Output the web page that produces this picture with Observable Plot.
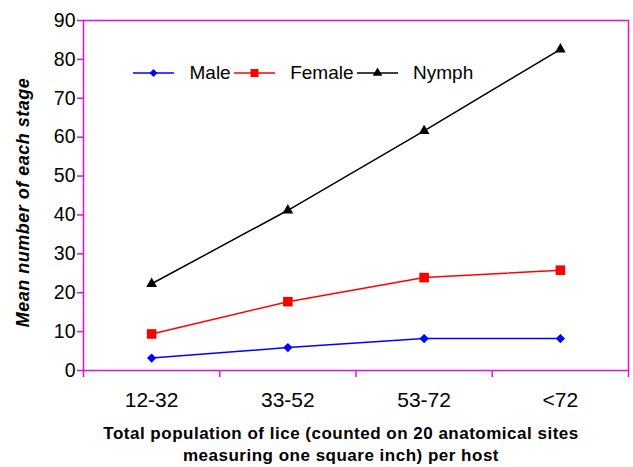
<!DOCTYPE html>
<html><head><meta charset="utf-8">
<script src="https://cdn.jsdelivr.net/npm/d3@7"></script>
<script src="https://cdn.jsdelivr.net/npm/@observablehq/plot@0.6"></script>
<style>
body{margin:0;background:#fff;font-family:"Liberation Sans",Arial,sans-serif}
#wrap{position:relative;width:633px;height:467px}
#legend{position:absolute;left:133px;top:61.5px;display:flex;align-items:center;font-size:19px;line-height:22px;color:#000}
.item{display:flex;align-items:center;margin-right:3px}
.item span{margin-left:15.5px}
</style></head><body><div id="wrap"></div>
<script>
const categories = ["12-32", "33-52", "53-72", "<72"];
const seriesNames = ["Male", "Female", "Nymph"];
const male = [3.2, 5.9, 8.2, 8.2];
const female = [9.4, 17.7, 23.9, 25.8];
const nymph = [22.3, 41.2, 61.6, 82.6];
const yTicks = [0, 10, 20, 30, 40, 50, 60, 70, 80, 90];
const xLabel = "Total population of lice (counted on 20 anatomical sites\nmeasuring one square inch) per host";
const yLabel = "Mean number of each stage";

const colors = {Male: "#0000ff", Female: "#ff0000", Nymph: "#000000"};
const symbols = {Male: "diamond2", Female: "square", Nymph: "triangle"};
const radii = {Male: 4.2, Female: 5.4, Nymph: 4};
const MAG = "#e010e0";

const seriesValues = [male, female, nymph];
const rows = [];
seriesNames.forEach((s, k) => seriesValues[k].forEach((v, i) => rows.push({series: s, i, cat: categories[i], value: v})));

const marks = [
  Plot.frame({stroke: MAG, strokeWidth: 1.5}),
  Plot.axisY(yTicks, {stroke: MAG, fill: "#000", strokeWidth: 1.5, fontSize: 19.5, tickSize: 6, tickPadding: 2, label: null}),
  Plot.axisX(d3.range(categories.length + 1).map(i => i - 0.5), {stroke: MAG, strokeWidth: 1.5, tickSize: 7, tickFormat: () => "", label: null}),
  Plot.axisX(d3.range(categories.length), {fill: "#000", fontSize: 21, tickSize: 0, tickPadding: 22, tickFormat: i => categories[i], label: null}),
  Plot.text([yLabel], {frameAnchor: "left", rotate: -90, dx: -60, dy: 7, textAnchor: "middle", fontWeight: "bold", fontStyle: "italic", fontSize: 18, fill: "#000"}),
  Plot.text([xLabel], {frameAnchor: "bottom", lineAnchor: "top", dy: 53, dx: -15, fontWeight: "bold", fontSize: 17, lineHeight: 1.3, fill: "#000"})
];
for (const s of seriesNames) {
  const d = rows.filter(r => r.series === s);
  marks.push(Plot.line(d, {x: "i", y: "value", stroke: colors[s], strokeWidth: 1.5}));
  marks.push(Plot.dot(d, {x: "i", y: "value", fill: colors[s], stroke: "none", symbol: symbols[s], r: radii[s]}));
}

const chart = Plot.plot({
  width: 633, height: 467,
  marginLeft: 83, marginRight: 5, marginTop: 20, marginBottom: 97,
  style: {fontFamily: "Liberation Sans, Arial, sans-serif", background: "white", overflow: "visible"},
  x: {type: "linear", domain: [-0.5, categories.length - 0.5]},
  y: {domain: [0, 90]},
  marks
});
chart.querySelectorAll("text").forEach(t => {
  if (t.textContent.startsWith("Mean")) t.setAttribute("letter-spacing", "0.5");
  if (t.textContent.startsWith("Total")) t.setAttribute("letter-spacing", "0.5");
});
const wrap = document.getElementById("wrap");
wrap.appendChild(chart);

// legend
const legend = document.createElement("div");
legend.id = "legend";
const symGen = {diamond2: d3.symbolDiamond2, square: d3.symbolSquare, triangle: d3.symbolTriangle};
const legSize = {Male: 40, Female: 64, Nymph: 40};
for (const s of seriesNames) {
  const item = document.createElement("div");
  item.className = "item";
  const svg = d3.create("svg").attr("width", 41).attr("height", 14);
  svg.append("line").attr("x1", 0).attr("x2", 41).attr("y1", 7).attr("y2", 7).attr("stroke", colors[s]).attr("stroke-width", 1.5);
  svg.append("path").attr("transform", "translate(20.5,7)").attr("d", d3.symbol(symGen[symbols[s]], legSize[s])()).attr("fill", colors[s]);
  item.appendChild(svg.node());
  const sp = document.createElement("span");
  sp.textContent = s;
  item.appendChild(sp);
  legend.appendChild(item);
}
wrap.appendChild(legend);
</script>
</body></html>
